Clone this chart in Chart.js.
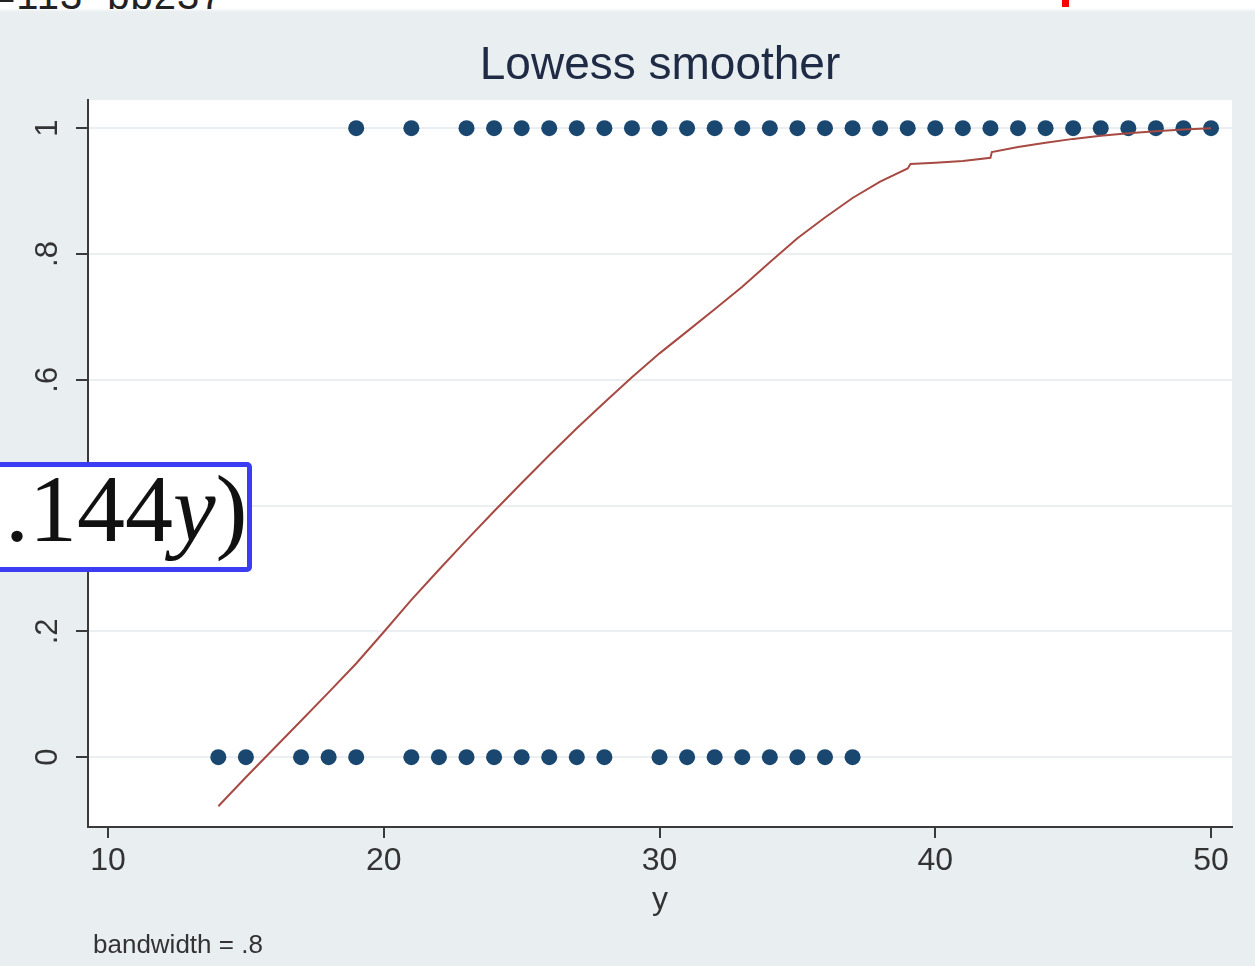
<!DOCTYPE html>
<html>
<head>
<meta charset="utf-8">
<script src="https://cdn.jsdelivr.net/npm/chart.js@4.4.0/dist/chart.umd.min.js"></script>
<style>
  html, body { margin: 0; padding: 0; background: #e9eef1; }
  #wrap { position: relative; width: 1255px; height: 966px; overflow: hidden; }
  #chart { position: absolute; left: 0; top: 0; }
  #topstrip { position: absolute; left: 0; top: 0; width: 1255px; height: 12px; overflow: hidden;
    background: linear-gradient(#ffffff 0px, #ffffff 8px, #e9eef1 12px); }
  #topstrip span { position: absolute; left: -8px; top: -25px; font: 40px/40px "Liberation Sans", Arial, sans-serif;
    color: #222; white-space: pre; letter-spacing: 1px; }
  #redmark { position: absolute; left: 1062px; top: 0; width: 7px; height: 7px; background: #ff0000; }
  #note { position: absolute; left: 93px; top: 931px; font: 26px/26px "Liberation Sans", Arial, sans-serif; color: #333; white-space: pre; }
  #eqbox { position: absolute; left: -10px; top: 462px; width: 262px; height: 110px; box-sizing: border-box;
    border: 5px solid #3c3cf2; border-radius: 5px; background: #fff; }
  #eqbox span { position: absolute; left: 10px; top: -6px; font: 96px/96px "Liberation Serif", "Times New Roman", serif;
    color: #111; white-space: pre; }
</style>
</head>
<body>
<div id="wrap">
  <canvas id="chart" width="1255" height="966"></canvas>
  <div id="topstrip"><span>=113  bb237</span></div>
  <div id="redmark"></div>
  <div id="eqbox"><span>.144<i>y</i>)</span></div>
  <div id="note">bandwidth = .8</div>
</div>
<script>
// data
const zeroX = [14, 15, 17, 18, 19, 21, 22, 23, 24, 25, 26, 27, 28, 30, 31, 32, 33, 34, 35, 36, 37];
const oneX = [19, 21, 23, 24, 25, 26, 27, 28, 29, 30, 31, 32, 33, 34, 35, 36, 37, 38, 39, 40, 41, 42, 43, 44, 45, 46, 47, 48, 49, 50];
const smoothX = [14, 15, 16, 17, 18, 19, 20, 21, 22, 23, 24, 25, 26, 27, 28, 29, 30, 31, 32, 33, 34, 35, 36, 37, 38, 39, 39.1, 40, 41, 42, 42.05, 43, 44, 45, 46, 47, 48, 49, 50];
const smoothY = [-0.078, -0.032, 0.013, 0.058, 0.103, 0.149, 0.199, 0.250, 0.298, 0.345, 0.391, 0.436, 0.480, 0.523, 0.564, 0.604, 0.642, 0.677, 0.712, 0.748, 0.787, 0.825, 0.858, 0.889, 0.915, 0.936, 0.943, 0.945, 0.948, 0.953, 0.962, 0.970, 0.977, 0.983, 0.988, 0.992, 0.995, 0.998, 1.000];
const xTicks = [10, 20, 30, 40, 50];
const yTicks = [0, 0.2, 0.4, 0.6, 0.8, 1];
const yTickLabels = ['0', '.2', '.4', '.6', '.8', '1'];

const dotColor = '#1a476f';
const curveColor = '#a64a43';
const textFont = '"Liberation Sans", Arial, sans-serif';

//backgrounds: grey graph region, white plot region
const bgPlugin = {
  id: 'bg',
  beforeDraw(chart) {
    const ctx = chart.ctx, a = chart.chartArea;
    ctx.save();
    ctx.fillStyle = '#e9eef1';
    ctx.fillRect(0, 0, chart.width, chart.height);
    ctx.fillStyle = '#ffffff';
    ctx.fillRect(a.left, a.top, a.right - a.left, a.bottom - a.top);
    ctx.restore();
  }
};

// stata draws the y labels turned on their side
const yLabelPlugin = {
  id: 'yLabels',
  afterDraw(chart) {
    const ys = chart.scales.y, ctx = chart.ctx;
    ctx.save();
    ctx.font = '31px ' + textFont;
    ctx.fillStyle = '#333';
    ctx.textAlign = 'center';
    ctx.textBaseline = 'alphabetic';
    yTicks.forEach((v, i) => {
      ctx.save();
      ctx.translate(57, ys.getPixelForValue(v));
      ctx.rotate(-Math.PI / 2);
      ctx.fillText(yTickLabels[i], 0, 0);
      ctx.restore();
    });
    ctx.restore();
  }
};

const ctx = document.getElementById('chart').getContext('2d');
new Chart(ctx, {
  type: 'scatter',
  data: {
    datasets: [
      {
        label: 'lowess',
        data: smoothX.map((x, i) => ({x: x, y: smoothY[i]})),
        showLine: true,
        borderColor: curveColor,
        borderWidth: 2,
        pointRadius: 0,
        tension: 0,
        order: 0
      },
      {
        label: 'zero',
        data: zeroX.map(x => ({x: x, y: 0})),
        backgroundColor: dotColor,
        borderWidth: 0,
        pointRadius: 8,
        order: 1
      },
      {
        label: 'one',
        data: oneX.map(x => ({x: x, y: 1})),
        backgroundColor: dotColor,
        borderWidth: 0,
        pointRadius: 8,
        order: 1
      }
    ]
  },
  options: {
    responsive: false,
    animation: false,
    devicePixelRatio: 1,
    layout: { padding: { left: 0, right: 23, top: 0, bottom: 0 } },
    plugins: {
      legend: { display: false },
      tooltip: { enabled: false },
      title: {
        display: true,
        fullSize: false,
        text: 'Lowess smoother',
        color: '#1f2a44',
        font: { family: textFont, size: 46, weight: 'normal', lineHeight: 1.2 },
        padding: { top: 39, bottom: 6 }
      }
    },
    scales: {
      x: {
        type: 'linear',
        min: 9.274,
        max: 50.76,
        afterBuildTicks: s => { s.ticks = xTicks.map(v => ({value: v})); },
        afterFit: s => { s.height = 139; },
        border: { color: '#3a3a3a', width: 2 },
        grid: { drawOnChartArea: false, color: '#3a3a3a', tickColor: '#3a3a3a', tickLength: 11, lineWidth: 2 },
        ticks: { color: '#333', font: { family: textFont, size: 32 }, padding: 4, maxRotation: 0, autoSkip: false },
        title: { display: true, text: 'y', color: '#333', font: { family: textFont, size: 32, lineHeight: 1.2 }, padding: { top: 0, bottom: 47 } }
      },
      y: {
        type: 'linear',
        min: -0.111,
        max: 1.0445,
        afterBuildTicks: s => { s.ticks = yTicks.map(v => ({value: v})); },
        afterFit: s => { s.width = 88; },
        border: { color: '#3a3a3a', width: 2 },
        grid: { color: '#eceff1', lineWidth: 2, tickColor: '#3a3a3a', tickLength: 12, drawTicks: true },
        ticks: { display: false }
      }
    }
  },
  plugins: [bgPlugin, yLabelPlugin]
});
</script>
</body>
</html>
